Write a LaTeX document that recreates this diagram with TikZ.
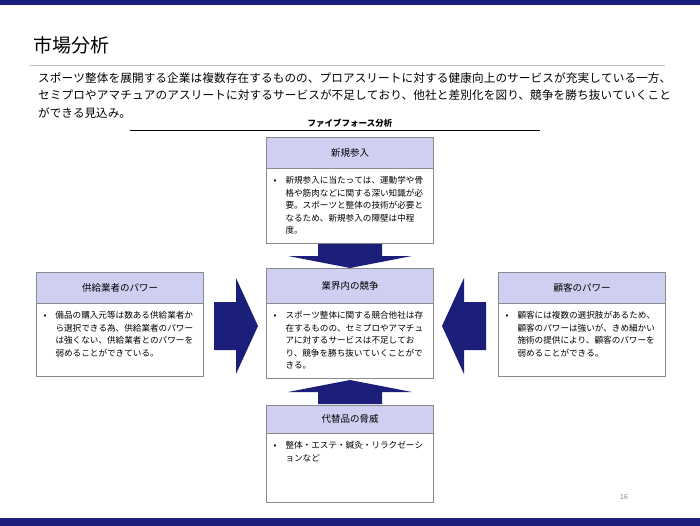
\documentclass[tikz,border=0pt]{standalone}
\usepackage{fontspec}
\setmainfont{Noto Sans CJK JP}
\XeTeXlinebreaklocale "ja"
\XeTeXlinebreakskip=0pt plus 1pt
\usetikzlibrary{positioning}
\definecolor{navy}{HTML}{1B1F7A}
\definecolor{hdr}{HTML}{CFCFF2}
\definecolor{edge}{HTML}{8A8A8A}
\newcommand{\bul}[2]{\makebox[14pt][l]{\hspace{2pt}•}\parbox[t]{#1}{\raggedright #2}}
\tikzset{
  head/.style={draw=edge,fill=hdr,minimum width=167pt,minimum height=31pt,inner sep=0pt,font=\fontsize{9.5}{11}\selectfont},
  body/.style={draw=edge,fill=white,minimum width=167pt,inner sep=0pt,anchor=north},
  txt/.style={anchor=north west,inner sep=0pt,font=\fontsize{8.6}{12.5}\selectfont,align=left},
  bigarrow/.style={fill=navy}
}
\begin{document}
\begin{tikzpicture}[x=1pt,y=-1pt]
        \useasboundingbox (0,0) rectangle (700,526);
        % frame bars
        \fill[navy] (0,0) rectangle (700,5);
        \fill[navy] (0,518) rectangle (700,526);

        % title
        \node[anchor=west,font=\fontsize{19}{22}\selectfont] (title) at (30,45) {市場分析};
        \draw[gray!50] (30,65) -- (665,65);
        \node[txt,font=\fontsize{11.6}{17.5}\selectfont,text width=636pt] (lead) at (38,72)
          {スポーツ整体を展開する企業は複数存在するものの、プロアスリートに対する健康向上のサービスが充実している一方、セミプロやアマチュアのアスリートに対するサービスが不足しており、他社と差別化を図り、競争を勝ち抜いていくことができる見込み。};
        \node[font=\bfseries\fontsize{8.5}{10}\selectfont] (ff) at (350,123) {ファイブフォース分析};
        \draw (130,130) -- (540,130);

        % boxes
        \node[head] (newh) at (350,152.5) {新規参入};
        \node[body,minimum height=75pt] (newb) at (newh.south) {};
        \node[txt] at ([xshift=5pt,yshift=-8pt]newb.north west) {\bul{138pt}{新規参入に当たっては、運動学や骨格や筋肉などに関する深い知識が必要。スポーツと整体の技術が必要となるため、新規参入の障壁は中程度。}};

        \node[head,minimum height=35pt] (comph) at (350,285.5) {業界内の競争};
        \node[body,minimum height=75pt] (compb) at (comph.south) {};
        \node[txt] at ([xshift=5pt,yshift=-8pt]compb.north west) {\bul{138pt}{スポーツ整体に関する競合他社は存在するものの、セミプロやアマチュアに対するサービスは不足しており、競争を勝ち抜いていくことができる。}};

        \node[head,minimum height=28pt] (subh) at (350,419) {代替品の脅威};
        \node[body,minimum height=69pt] (subb) at (subh.south) {};
        \node[txt] at ([xshift=5pt,yshift=-8pt]subb.north west) {\bul{140pt}{整体・エステ・鍼灸・リラクゼーションなど}};

        \node[head] (suph) at (120,287.5) {供給業者のパワー};
        \node[body,minimum height=73pt] (supb) at (suph.south) {};
        \node[txt] at ([xshift=5pt,yshift=-8pt]supb.north west) {\bul{138pt}{備品の購入元等は数ある供給業者から選択できる為、供給業者のパワーは強くない、供給業者とのパワーを弱めることができている。}};

        \node[head] (cush) at (582,287.5) {顧客のパワー};
        \node[body,minimum height=73pt] (cusb) at (cush.south) {};
        \node[txt] at ([xshift=5pt,yshift=-8pt]cusb.north west) {\bul{138pt}{顧客には複数の選択肢があるため、顧客のパワーは強いが、きめ細かい施術の提供により、顧客のパワーを弱めることができる。}};

        % arrows
        \fill[bigarrow] (318,244) -- (382,244) -- (382,256) -- (412,256) -- (350,268) -- (288,256) -- (318,256) -- cycle;
        \fill[bigarrow] (318,404) -- (382,404) -- (382,392) -- (412,392) -- (350,380) -- (288,392) -- (318,392) -- cycle;
        \fill[bigarrow] (214,302) -- (236,302) -- (236,278) -- (258,326) -- (236,374) -- (236,350) -- (214,350) -- cycle;
        \fill[bigarrow] (486,302) -- (464,302) -- (464,278) -- (442,326) -- (464,374) -- (464,350) -- (486,350) -- cycle;

        % page number
        \node[gray,font=\fontsize{7}{8}\selectfont] (page) at (624,497) {16};
\end{tikzpicture}
\end{document}
